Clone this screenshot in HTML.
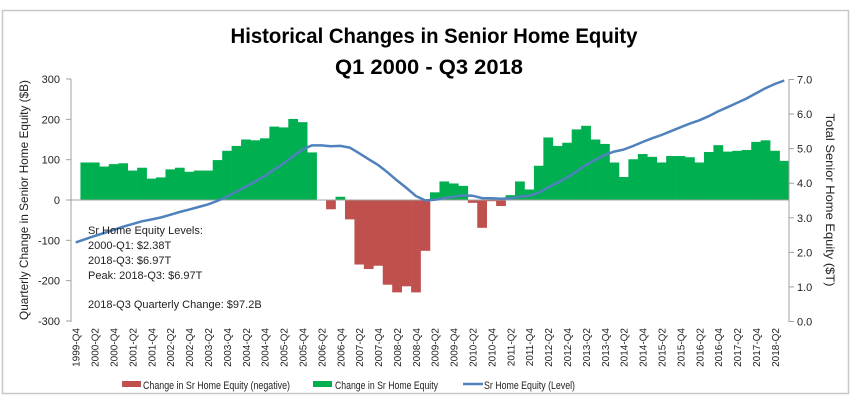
<!DOCTYPE html>
<html><head><meta charset="utf-8"><style>body{margin:0;background:#fff}svg{display:block}text{font-family:"Liberation Sans",sans-serif}</style></head><body>
<svg id="s" width="859" height="405" xmlns="http://www.w3.org/2000/svg">
<rect x="0" y="0" width="859" height="405" fill="#fff"/>
<rect x="2.5" y="10.5" width="846" height="383" fill="none" stroke="#c8c8c8" stroke-width="1.5"/>
<text x="434" y="43" text-anchor="middle" font-size="21" font-weight="bold" textLength="407" lengthAdjust="spacingAndGlyphs">Historical Changes in Senior Home Equity</text>
<text x="429" y="74" text-anchor="middle" font-size="21" font-weight="bold" textLength="188" lengthAdjust="spacingAndGlyphs">Q1 2000 - Q3 2018</text>
<g id="bars"></g>
<line x1="71" y1="200" x2="789" y2="200" stroke="#a0a0a0" stroke-width="1"/>
<line x1="71" y1="79" x2="71" y2="322" stroke="#a0a0a0"/>
<line x1="789" y1="79" x2="789" y2="322" stroke="#a0a0a0"/>
<g id="ticks" font-size="11" fill="#222"></g>
<polyline id="ln" fill="none" stroke="#4F81BD" stroke-width="2.5"/>
<text transform="translate(28,200) rotate(-90)" text-anchor="middle" font-size="12" fill="#222" textLength="240" lengthAdjust="spacingAndGlyphs">Quarterly Change in Senior Home Equity ($B)</text>
<text transform="translate(826,200) rotate(90)" text-anchor="middle" font-size="12" fill="#222" textLength="173" lengthAdjust="spacingAndGlyphs">Total Senior Home Equity ($T)</text>
<g font-size="11" fill="#222">
<text x="88" y="234">Sr Home Equity Levels:</text>
<text x="88" y="249">2000-Q1: $2.38T</text>
<text x="88" y="264">2018-Q3: $6.97T</text>
<text x="88" y="279">Peak: 2018-Q3: $6.97T</text>
<text x="88" y="308">2018-Q3 Quarterly Change: $97.2B</text>
</g>
<g font-size="11" fill="#222">
<rect x="122" y="381" width="19" height="6" fill="#C0504D"/>
<text x="143" y="389" textLength="147" lengthAdjust="spacingAndGlyphs">Change in Sr Home Equity (negative)</text>
<rect x="313" y="381" width="19" height="6" fill="#00B050"/>
<text x="335" y="389" textLength="103" lengthAdjust="spacingAndGlyphs">Change in Sr Home Equity</text>
<line x1="463" y1="384" x2="483" y2="384" stroke="#4F81BD" stroke-width="2.5"/>
<text x="484" y="389" textLength="91" lengthAdjust="spacingAndGlyphs">Sr Home Equity (Level)</text>
</g>
</svg>
<script>
var d=[null,93,93,83,89,91,73,80,53,56,76,80,70,73,73,99,122,134,150,148,153,182,180,201,193,
118,0,-23,8,-48,-160,-171,-163,-210,-229,-214,-229,-126,19,46,41,35,-7,-69,-3,-15,12,46,26,85,155,134,142,
175,184,150,139,93,57,101,114,107,93,109,109,106,93,119,136,120,122,124,144,148,122,97];
var NS="http://www.w3.org/2000/svg",x0=71,w=718/76,z=200,k=121/300;
function el(t,a,p,txt){var e=document.createElementNS(NS,t);for(var i in a)e.setAttribute(i,a[i]);if(txt!=null)e.textContent=txt;p.appendChild(e);return e;}
var B=document.getElementById('bars'),T=document.getElementById('ticks');
for(var i=1;i<76;i++){var v=d[i];if(v===0)continue;var h=Math.abs(v)*k;
el('rect',{x:(x0+i*w).toFixed(2),y:(v>0?z-h:z).toFixed(2),width:(w+0.3).toFixed(2),height:h.toFixed(2),fill:v>0?'#00B050':'#C0504D'},B);}
// line
var lv=[],L=2.38;lv[1]=L;lv[0]=L-0.093;for(i=2;i<76;i++){L+=d[i]/1000;lv[i]=L;}
var sc=(6.97-2.38)/(lv[75]-2.38);var pts=[];
for(i=0;i<76;i++){var vv=i==0?lv[0]:2.38+(lv[i]-2.38)*sc;pts.push((x0+(i+0.5)*w).toFixed(1)+','+(321.5-vv*34.57).toFixed(1));}
document.getElementById('ln').setAttribute('points',pts.join(' '));
// left ticks
for(var t=-300;t<=300;t+=100){var y=z-t*k;el('line',{x1:66,x2:71,y1:y,y2:y,stroke:'#a0a0a0'},T);el('text',{x:60,y:y+4,'text-anchor':'end'},T,t);}
for(t=0;t<=7;t++){var y=321.5-t*34.57;el('line',{x1:789,x2:794,y1:y,y2:y,stroke:'#a0a0a0'},T);el('text',{x:797,y:y+4},T,t.toFixed(1));}
var q=['Q4','Q1','Q2','Q3'];
for(i=0;i<76;i+=2){var yr=1999+Math.floor((i+3)/4),qq=['Q1','Q2','Q3','Q4'][(i+3)%4];
var cx=x0+(i+0.5)*w+4;el('text',{transform:'translate('+cx.toFixed(1)+',328) rotate(-90)','text-anchor':'end','font-size':'10'},T,yr+'-'+qq);}
</script>
</body></html>
